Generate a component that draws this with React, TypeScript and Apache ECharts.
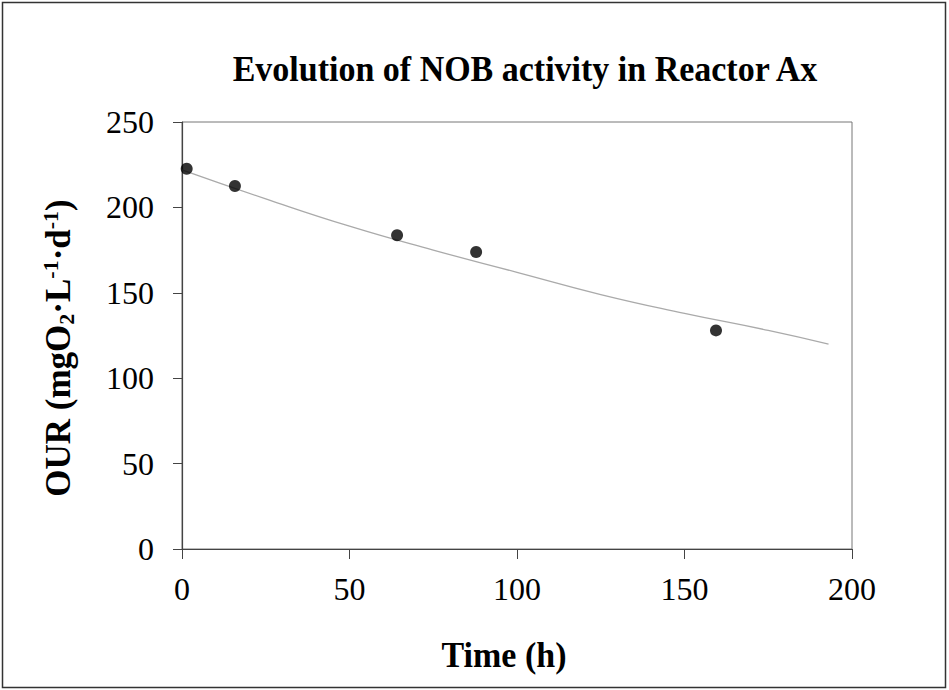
import React, { useEffect, useRef } from "react";
import * as echarts from "echarts";

const measuredTime = [1.4, 15.8, 64.2, 87.8, 159.4];
const measuredOUR = [222.6, 212.5, 183.7, 173.9, 128];
const fitTime = [0, 25, 50, 75, 100, 125, 150, 175, 193];
const fitOUR = [222, 205, 189, 175, 162, 149, 138, 128, 120];
const xTicks = [0, 50, 100, 150, 200];
const yTicks = [0, 50, 100, 150, 200, 250];

const FONT = "'Liberation Serif', 'Times New Roman', serif";

export default function App() {
  const ref = useRef<HTMLDivElement>(null);
  useEffect(() => {
    if (!ref.current) return;
    const chart = echarts.init(ref.current, undefined, { renderer: "svg" });
    chart.setOption({
      animation: false,
      backgroundColor: "#ffffff",
      grid: {
        left: 182,
        top: 122,
        width: 670,
        height: 427,
        show: true,
        borderColor: "#777",
        borderWidth: 1,
        backgroundColor: "transparent",
      },
      xAxis: {
        type: "value",
        min: xTicks[0],
        max: xTicks[xTicks.length - 1],
        interval: 50,
        axisLine: { show: true, lineStyle: { color: "#444", width: 1.2 } },
        axisTick: { show: true, inside: false, length: 10, lineStyle: { color: "#444" } },
        splitLine: { show: false },
        axisLabel: { fontFamily: FONT, fontSize: 32, color: "#000", margin: 24 },
      },
      yAxis: {
        type: "value",
        min: yTicks[0],
        max: yTicks[yTicks.length - 1],
        interval: 50,
        axisLine: { show: true, lineStyle: { color: "#444", width: 1.2 } },
        axisTick: { show: true, inside: false, length: 9, lineStyle: { color: "#444" } },
        splitLine: { show: false },
        axisLabel: { fontFamily: FONT, fontSize: 32, color: "#000", margin: 28 },
      },
      graphic: [
        {
          type: "rect",
          shape: { x: 2.5, y: 2.5, width: 943, height: 685 },
          style: { fill: "none", stroke: "#333", lineWidth: 1.5 },
          silent: true,
        },
        {
          type: "text",
          x: 525,
          y: 69,
          scaleY: 1.06,
          style: {
            text: "Evolution of NOB activity in Reactor Ax",
            font: `bold 34px ${FONT}`,
            fill: "#000",
            align: "center",
            verticalAlign: "middle",
          },
        },
        {
          type: "text",
          x: 504,
          y: 655,
          scaleY: 1.06,
          style: {
            text: "Time (h)",
            font: `bold 34px ${FONT}`,
            fill: "#000",
            align: "center",
            verticalAlign: "middle",
          },
        },
        {
          type: "text",
          x: 58,
          y: 348,
          rotation: Math.PI / 2,
          style: {
            text: "{m|OUR (mgO}{sub|2}{m|·L}{sup|-1}{m|·d}{sup|-1}{m|)}",
            align: "center",
            verticalAlign: "middle",
            rich: {
              m: { font: `bold 35px ${FONT}`, fill: "#000" },
              sub: { font: `bold 22px ${FONT}`, fill: "#000", padding: [16, 0, 0, 0] },
              sup: { font: `bold 22px ${FONT}`, fill: "#000", padding: [0, 0, 16, 0] },
            },
          },
        },
      ],
      series: [
        {
          type: "line",
          data: fitTime.map((t, i) => [t, fitOUR[i]]),
          smooth: true,
          showSymbol: false,
          symbol: "none",
          lineStyle: { color: "#aaa", width: 1.3 },
          z: 1,
        },
        {
          type: "scatter",
          data: measuredTime.map((t, i) => [t, measuredOUR[i]]),
          symbol: "circle",
          symbolSize: 12,
          itemStyle: { color: "#000" },
          z: 2,
        },
      ],
    });
    return () => chart.dispose();
  }, []);
  return (
    <div
      ref={ref}
      style={{ position: "absolute", left: 0, top: 0, width: 949, height: 690 }}
    />
  );
}
